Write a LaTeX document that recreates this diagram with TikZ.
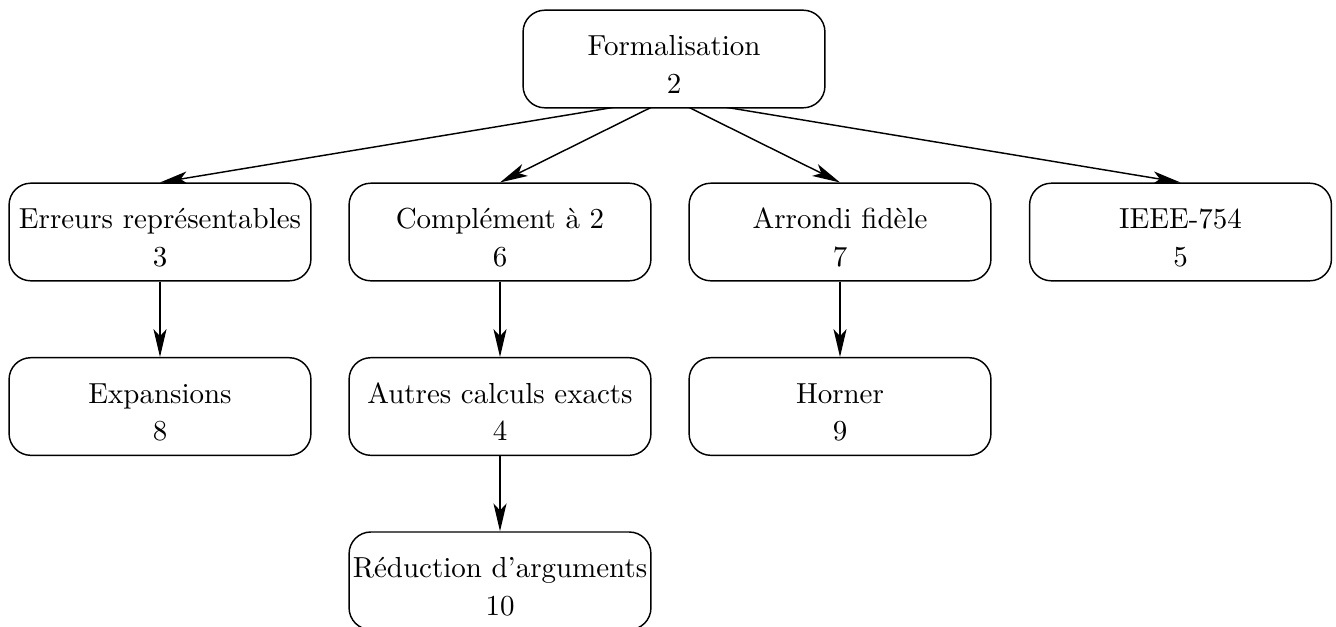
\documentclass[tikz,border=0pt]{standalone}
\usetikzlibrary{arrows.meta,backgrounds}
\begin{document}
\begin{tikzpicture}[x=0.3452pt, y=-0.3452pt,
  box/.style={draw, rounded corners=7.5pt, fill=white, line width=0.5pt,
    minimum width=104.2pt, minimum height=33.7pt, inner sep=0pt,
    align=center, font=\fontsize{10}{13.1}\selectfont,
    text height=23.8pt, text depth=0pt},
  link/.style={-{Stealth[length=9.6pt,width=4.5pt,inset=2.4pt]}, line width=0.5pt}]
\useasboundingbox (0,0) rectangle (1336,626);
\node[box] (form) at (674,59) {Formalisation\\2};
\node[box] (err) at (160,232) {Erreurs représentables\\3};
\node[box] (comp) at (500,232) {Complément à 2\\6};
\node[box] (arr) at (840,232) {Arrondi fidèle\\7};
\node[box] (ieee) at (1180.5,232) {IEEE-754\\5};
\node[box] (exp) at (160,406.5) {Expansions\\8};
\node[box] (autres) at (500,406.5) {Autres calculs exacts\\4};
\node[box] (horner) at (840,406.5) {Horner\\9};
\node[box] (red) at (500,580.8) {Réduction d’arguments\\10};
\coordinate (hub) at (670,98);
\begin{scope}[on background layer]
\draw[link] (hub) -- (err.north);
\draw[link] (hub) -- (comp.north);
\draw[link] (hub) -- (arr.north);
\draw[link] (hub) -- (ieee.north);
\end{scope}
\draw[link] (err.south) -- (exp.north);
\draw[link] (comp.south) -- (autres.north);
\draw[link] (autres.south) -- (red.north);
\draw[link] (arr.south) -- (horner.north);
\end{tikzpicture}
\end{document}
